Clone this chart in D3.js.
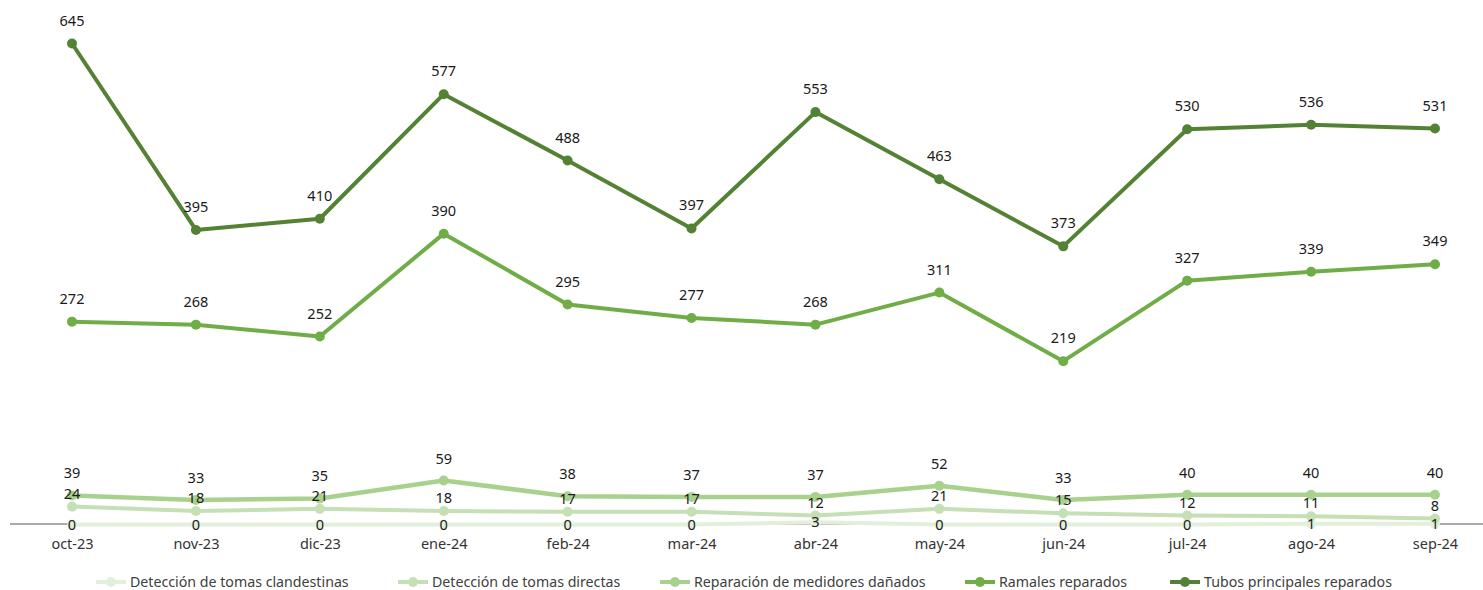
<!DOCTYPE html>
<html>
<head>
<meta charset="utf-8">
<script src="https://cdn.jsdelivr.net/npm/d3@7"></script>
<style>
  html, body { margin: 0; padding: 0; background: #fff; }
  svg { display: block; }
</style>
</head>
<body>
<svg id="chart" width="1483" height="590"></svg>
<script>
const months = ["oct-23","nov-23","dic-23","ene-24","feb-24","mar-24","abr-24","may-24","jun-24","jul-24","ago-24","sep-24"];
const clandestinas = [0,0,0,0,0,0,3,0,0,0,1,1];
const directas = [24,18,21,18,17,17,12,21,15,12,11,8];
const medidores = [39,33,35,59,38,37,37,52,33,40,40,40];
const ramales = [272,268,252,390,295,277,268,311,219,327,339,349];
const tubos = [645,395,410,577,488,397,553,463,373,530,536,531];
const seriesNames = ["Detección de tomas clandestinas","Detección de tomas directas","Reparación de medidores dañados","Ramales reparados","Tubos principales reparados"];

const series = [
  {name: seriesNames[0], values: clandestinas, color: "#e2efda", width: 4, labelDy: 5},
  {name: seriesNames[1], values: directas, color: "#c5e0b4", width: 4, labelDy: -8},
  {name: seriesNames[2], values: medidores, color: "#a9d18e", width: 4.5, labelDy: -17},
  {name: seriesNames[3], values: ramales, color: "#70ad47", width: 4, labelDy: -18},
  {name: seriesNames[4], values: tubos, color: "#548235", width: 4, labelDy: -18}
];

const svg = d3.select("#chart");
const font = "'Noto Sans', 'Open Sans', sans-serif";

const x = d3.scalePoint().domain(months).range([72, 1435]);
const y = d3.scaleLinear().domain([0, 645]).range([524.5, 43.5]);

// axis
const axis = svg.append("g").attr("transform", "translate(0,524)")
  .call(d3.axisBottom(x).tickSize(0).tickPadding(15));
axis.select(".domain").remove();
axis.selectAll("text").attr("font-family", font).attr("font-size", 14.5).attr("fill", "#333");
svg.append("line").attr("x1", 10).attr("x2", 1483).attr("y1", 524).attr("y2", 524)
  .attr("stroke", "#555").attr("stroke-width", 1);

const line = d3.line().x((d, i) => x(months[i])).y(d => y(d));

series.forEach(s => {
  svg.append("path").datum(s.values).attr("d", line)
    .attr("fill", "none").attr("stroke", s.color).attr("stroke-width", s.width)
    .attr("stroke-linejoin", "round");
  svg.append("g").selectAll("circle").data(s.values).join("circle")
    .attr("cx", (d, i) => x(months[i])).attr("cy", d => y(d)).attr("r", 5)
    .attr("fill", s.color);
});

series.forEach(s => {
  svg.append("g").selectAll("text").data(s.values).join("text")
    .attr("x", (d, i) => x(months[i])).attr("y", d => y(d) + s.labelDy)
    .attr("text-anchor", "middle")
    .attr("font-family", font).attr("font-size", 14.5).attr("fill", "#1a1a1a")
    .text(d => d);
});

// legend
const legendX = [96, 398, 660, 965, 1170];
const lg = svg.append("g");
series.forEach((s, i) => {
  const g = lg.append("g").attr("transform", `translate(${legendX[i]},582)`);
  g.append("line").attr("x1", 0).attr("x2", 30).attr("y1", 0).attr("y2", 0)
    .attr("stroke", s.color).attr("stroke-width", 4);
  g.append("circle").attr("cx", 15).attr("cy", 0).attr("r", 5).attr("fill", s.color);
  g.append("text").attr("x", 34).attr("y", 5)
    .attr("font-family", font).attr("font-size", 14.2).attr("fill", "#404040")
    .text(s.name);
});
</script>
</body>
</html>
